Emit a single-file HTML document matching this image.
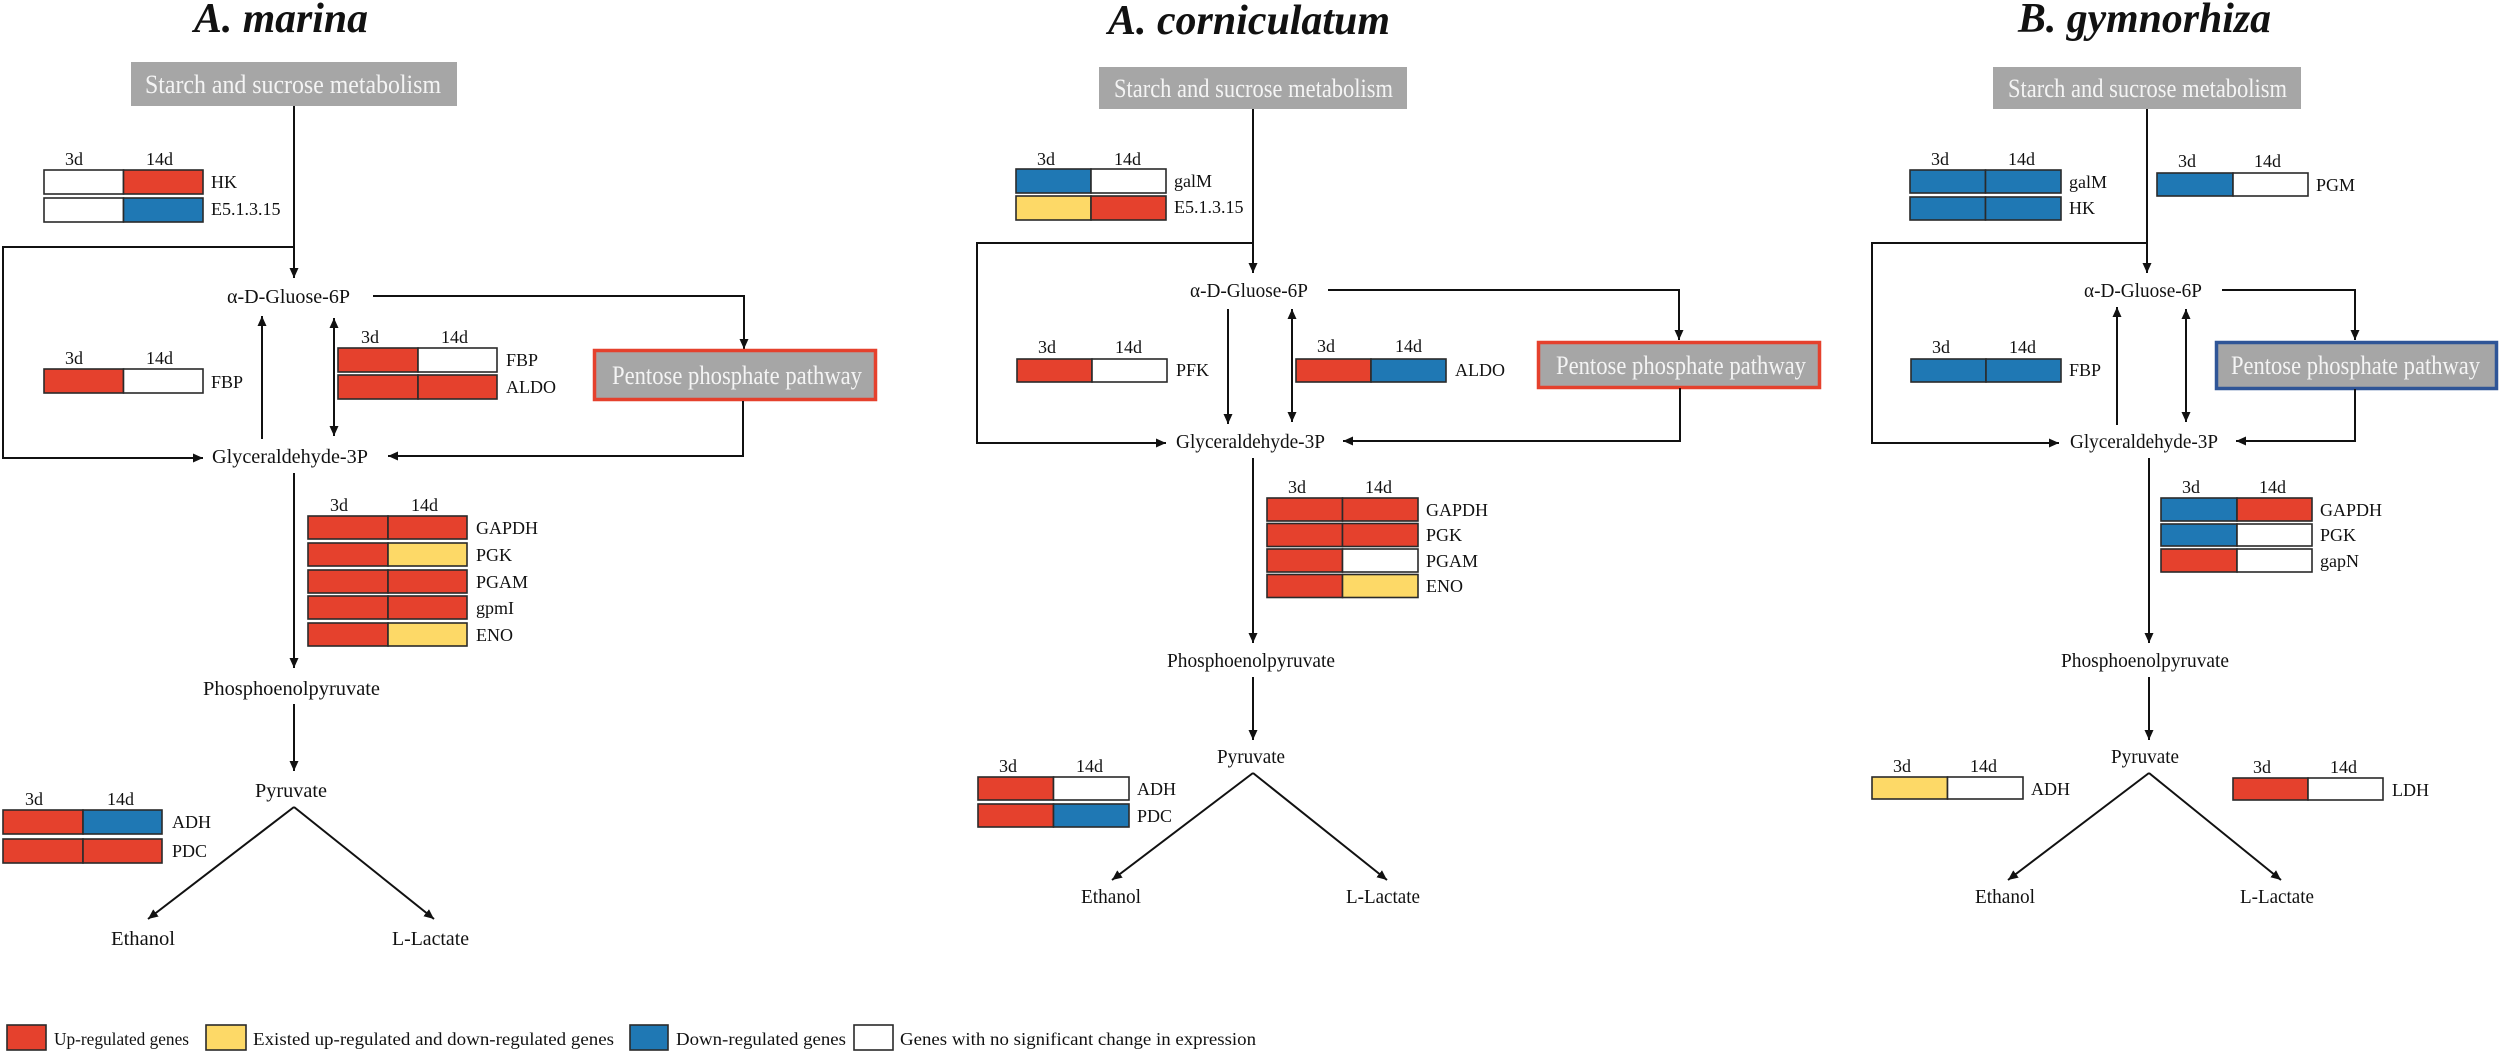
<!DOCTYPE html>
<html><head><meta charset="utf-8"><style>
html,body{margin:0;padding:0;background:#fff;}
svg{display:block;}
text{font-family:"Liberation Serif",serif;fill:#111;}
.t{font-size:42px;font-weight:bold;font-style:italic;}
.bx{font-size:26px;fill:#f4f4f4;}
.m{font-size:20px;}
.s{font-size:18px;}
.ln{stroke:#111;stroke-width:2;fill:none;}
.r{stroke:#2a2a2a;stroke-width:1.6;}
</style></head><body>
<svg width="2500" height="1052" viewBox="0 0 2500 1052" xmlns="http://www.w3.org/2000/svg">
<defs>
<marker id="a" markerUnits="userSpaceOnUse" markerWidth="10" markerHeight="9" refX="10" refY="4.5" orient="auto"><path d="M0,0 L10,4.5 L0,9 z" fill="#111"/></marker>
<marker id="b" markerUnits="userSpaceOnUse" markerWidth="10" markerHeight="9" refX="0" refY="4.5" orient="auto"><path d="M10,0 L0,4.5 L10,9 z" fill="#111"/></marker>
</defs>

<!-- ============ Panel 1 ============ -->
<text class="t" x="194" y="32" textLength="174" lengthAdjust="spacingAndGlyphs">A. marina</text>
<rect x="131" y="62" width="326" height="44" fill="#a6a6a6"/>
<text class="bx" x="145" y="93" textLength="296" lengthAdjust="spacingAndGlyphs">Starch and sucrose metabolism</text>
<path class="ln" d="M294,106 V278" marker-end="url(#a)"/>
<text class="s" x="65" y="165">3d</text><text class="s" x="146" y="165">14d</text>
<rect class="r" x="44" y="170" width="79.5" height="24" fill="#fff"/><rect class="r" x="123.5" y="170" width="79.5" height="24" fill="#e5412d"/>
<rect class="r" x="44" y="198" width="79.5" height="24" fill="#fff"/><rect class="r" x="123.5" y="198" width="79.5" height="24" fill="#1f78b4"/>
<text class="s" x="211" y="188">HK</text><text class="s" x="211" y="215">E5.1.3.15</text>
<path class="ln" d="M294,247 H3 V458 H203" marker-end="url(#a)"/>
<text class="m" x="227" y="303" textLength="123" lengthAdjust="spacingAndGlyphs">α-D-Gluose-6P</text>
<path class="ln" d="M373,296 H744 V349" marker-end="url(#a)"/>
<path class="ln" d="M262,439 V316" marker-end="url(#a)"/>
<path class="ln" d="M334,318 V436" marker-start="url(#b)" marker-end="url(#a)"/>
<text class="s" x="65" y="364">3d</text><text class="s" x="146" y="364">14d</text>
<rect class="r" x="44" y="369" width="79.5" height="24" fill="#e5412d"/><rect class="r" x="123.5" y="369" width="79.5" height="24" fill="#fff"/>
<text class="s" x="211" y="388">FBP</text>
<text class="s" x="361" y="343">3d</text><text class="s" x="441" y="343">14d</text>
<rect class="r" x="338" y="348" width="80" height="24" fill="#e5412d"/><rect class="r" x="418" y="348" width="79" height="24" fill="#fff"/>
<rect class="r" x="338" y="375" width="80" height="24" fill="#e5412d"/><rect class="r" x="418" y="375" width="79" height="24" fill="#e5412d"/>
<text class="s" x="506" y="366">FBP</text><text class="s" x="506" y="393">ALDO</text>
<rect x="594.5" y="350.5" width="281" height="49" fill="#a6a6a6" stroke="#e5412d" stroke-width="3.5"/>
<text class="bx" x="612" y="384" textLength="250" lengthAdjust="spacingAndGlyphs">Pentose phosphate pathway</text>
<path class="ln" d="M743,401 V456 H388" marker-end="url(#a)"/>
<text class="m" x="212" y="463" textLength="156" lengthAdjust="spacingAndGlyphs">Glyceraldehyde-3P</text>
<path class="ln" d="M294,473 V668" marker-end="url(#a)"/>
<text class="s" x="330" y="511">3d</text><text class="s" x="411" y="511">14d</text>
<rect class="r" x="308" y="516" width="80" height="23" fill="#e5412d"/><rect class="r" x="388" y="516" width="79" height="23" fill="#e5412d"/>
<rect class="r" x="308" y="543" width="80" height="23" fill="#e5412d"/><rect class="r" x="388" y="543" width="79" height="23" fill="#fdd967"/>
<rect class="r" x="308" y="570" width="80" height="23" fill="#e5412d"/><rect class="r" x="388" y="570" width="79" height="23" fill="#e5412d"/>
<rect class="r" x="308" y="596" width="80" height="23" fill="#e5412d"/><rect class="r" x="388" y="596" width="79" height="23" fill="#e5412d"/>
<rect class="r" x="308" y="623" width="80" height="23" fill="#e5412d"/><rect class="r" x="388" y="623" width="79" height="23" fill="#fdd967"/>
<text class="s" x="476" y="534">GAPDH</text><text class="s" x="476" y="561">PGK</text><text class="s" x="476" y="588">PGAM</text><text class="s" x="476" y="614">gpmI</text><text class="s" x="476" y="641">ENO</text>
<text class="m" x="203" y="695" textLength="177" lengthAdjust="spacingAndGlyphs">Phosphoenolpyruvate</text>
<path class="ln" d="M294,704 V771" marker-end="url(#a)"/>
<text class="m" x="255" y="797" textLength="72" lengthAdjust="spacingAndGlyphs">Pyruvate</text>
<path class="ln" d="M294,807 L148,919" marker-end="url(#a)"/>
<path class="ln" d="M294,807 L434,919" marker-end="url(#a)"/>
<text class="s" x="25" y="805">3d</text><text class="s" x="107" y="805">14d</text>
<rect class="r" x="3" y="810" width="80" height="24" fill="#e5412d"/><rect class="r" x="83" y="810" width="79" height="24" fill="#1f78b4"/>
<rect class="r" x="3" y="839" width="80" height="24" fill="#e5412d"/><rect class="r" x="83" y="839" width="79" height="24" fill="#e5412d"/>
<text class="s" x="172" y="828">ADH</text><text class="s" x="172" y="857">PDC</text>
<text class="m" x="111" y="945" textLength="64" lengthAdjust="spacingAndGlyphs">Ethanol</text>
<text class="m" x="392" y="945" textLength="77" lengthAdjust="spacingAndGlyphs">L-Lactate</text>

<!-- ============ Panel 2 ============ -->
<text class="t" x="1108" y="34" textLength="282" lengthAdjust="spacingAndGlyphs">A. corniculatum</text>
<rect x="1099" y="67" width="308" height="42" fill="#a6a6a6"/>
<text class="bx" x="1114" y="97" textLength="279" lengthAdjust="spacingAndGlyphs">Starch and sucrose metabolism</text>
<path class="ln" d="M1253,109 V273" marker-end="url(#a)"/>
<text class="s" x="1037" y="165">3d</text><text class="s" x="1114" y="165">14d</text>
<rect class="r" x="1016" y="169" width="75" height="24" fill="#1f78b4"/><rect class="r" x="1091" y="169" width="75" height="24" fill="#fff"/>
<rect class="r" x="1016" y="196" width="75" height="24" fill="#fdd967"/><rect class="r" x="1091" y="196" width="75" height="24" fill="#e5412d"/>
<text class="s" x="1174" y="187">galM</text><text class="s" x="1174" y="213">E5.1.3.15</text>
<path class="ln" d="M1253,243 H977 V443 H1166" marker-end="url(#a)"/>
<text class="m" x="1190" y="297" textLength="118" lengthAdjust="spacingAndGlyphs">α-D-Gluose-6P</text>
<path class="ln" d="M1328,290 H1679 V340" marker-end="url(#a)"/>
<path class="ln" d="M1228,309 V424" marker-end="url(#a)"/>
<path class="ln" d="M1292,309 V422" marker-start="url(#b)" marker-end="url(#a)"/>
<text class="s" x="1038" y="353">3d</text><text class="s" x="1115" y="353">14d</text>
<rect class="r" x="1017" y="359" width="75" height="23" fill="#e5412d"/><rect class="r" x="1092" y="359" width="75" height="23" fill="#fff"/>
<text class="s" x="1176" y="376">PFK</text>
<text class="s" x="1317" y="352">3d</text><text class="s" x="1395" y="352">14d</text>
<rect class="r" x="1296" y="359" width="75" height="23" fill="#e5412d"/><rect class="r" x="1371" y="359" width="75" height="23" fill="#1f78b4"/>
<text class="s" x="1455" y="376">ALDO</text>
<rect x="1538.5" y="342.5" width="281" height="45" fill="#a6a6a6" stroke="#e5412d" stroke-width="3.5"/>
<text class="bx" x="1556" y="374" textLength="250" lengthAdjust="spacingAndGlyphs">Pentose phosphate pathway</text>
<path class="ln" d="M1680,388 V441 H1343" marker-end="url(#a)"/>
<text class="m" x="1176" y="448" textLength="149" lengthAdjust="spacingAndGlyphs">Glyceraldehyde-3P</text>
<path class="ln" d="M1253,458 V643" marker-end="url(#a)"/>
<text class="s" x="1288" y="493">3d</text><text class="s" x="1365" y="493">14d</text>
<rect class="r" x="1267" y="498" width="75.5" height="23" fill="#e5412d"/><rect class="r" x="1342.5" y="498" width="75.5" height="23" fill="#e5412d"/>
<rect class="r" x="1267" y="523.5" width="75.5" height="23" fill="#e5412d"/><rect class="r" x="1342.5" y="523.5" width="75.5" height="23" fill="#e5412d"/>
<rect class="r" x="1267" y="549" width="75.5" height="23" fill="#e5412d"/><rect class="r" x="1342.5" y="549" width="75.5" height="23" fill="#fff"/>
<rect class="r" x="1267" y="574.5" width="75.5" height="23" fill="#e5412d"/><rect class="r" x="1342.5" y="574.5" width="75.5" height="23" fill="#fdd967"/>
<text class="s" x="1426" y="516">GAPDH</text><text class="s" x="1426" y="541">PGK</text><text class="s" x="1426" y="567">PGAM</text><text class="s" x="1426" y="592">ENO</text>
<text class="m" x="1167" y="667" textLength="168" lengthAdjust="spacingAndGlyphs">Phosphoenolpyruvate</text>
<path class="ln" d="M1253,677 V740" marker-end="url(#a)"/>
<text class="m" x="1217" y="763" textLength="68" lengthAdjust="spacingAndGlyphs">Pyruvate</text>
<path class="ln" d="M1253,773 L1112,880" marker-end="url(#a)"/>
<path class="ln" d="M1253,773 L1387,880" marker-end="url(#a)"/>
<text class="s" x="999" y="772">3d</text><text class="s" x="1076" y="772">14d</text>
<rect class="r" x="978" y="777" width="75.5" height="23" fill="#e5412d"/><rect class="r" x="1053.5" y="777" width="75.5" height="23" fill="#fff"/>
<rect class="r" x="978" y="804" width="75.5" height="23" fill="#e5412d"/><rect class="r" x="1053.5" y="804" width="75.5" height="23" fill="#1f78b4"/>
<text class="s" x="1137" y="795">ADH</text><text class="s" x="1137" y="822">PDC</text>
<text class="m" x="1081" y="903" textLength="60" lengthAdjust="spacingAndGlyphs">Ethanol</text>
<text class="m" x="1346" y="903" textLength="74" lengthAdjust="spacingAndGlyphs">L-Lactate</text>

<!-- ============ Panel 3 ============ -->
<text class="t" x="2018" y="32" textLength="253" lengthAdjust="spacingAndGlyphs">B. gymnorhiza</text>
<rect x="1993" y="67" width="308" height="42" fill="#a6a6a6"/>
<text class="bx" x="2008" y="97" textLength="279" lengthAdjust="spacingAndGlyphs">Starch and sucrose metabolism</text>
<path class="ln" d="M2147,109 V273" marker-end="url(#a)"/>
<text class="s" x="1931" y="165">3d</text><text class="s" x="2008" y="165">14d</text>
<rect class="r" x="1910" y="170" width="75.5" height="23" fill="#1f78b4"/><rect class="r" x="1985.5" y="170" width="75.5" height="23" fill="#1f78b4"/>
<rect class="r" x="1910" y="197" width="75.5" height="23" fill="#1f78b4"/><rect class="r" x="1985.5" y="197" width="75.5" height="23" fill="#1f78b4"/>
<text class="s" x="2069" y="188">galM</text><text class="s" x="2069" y="214">HK</text>
<text class="s" x="2178" y="167">3d</text><text class="s" x="2254" y="167">14d</text>
<rect class="r" x="2157" y="173" width="76" height="23" fill="#1f78b4"/><rect class="r" x="2233" y="173" width="75" height="23" fill="#fff"/>
<text class="s" x="2316" y="191">PGM</text>
<path class="ln" d="M2147,243 H1872 V443 H2059" marker-end="url(#a)"/>
<text class="m" x="2084" y="297" textLength="118" lengthAdjust="spacingAndGlyphs">α-D-Gluose-6P</text>
<path class="ln" d="M2222,290 H2355 V340" marker-end="url(#a)"/>
<path class="ln" d="M2117,425 V307" marker-end="url(#a)"/>
<path class="ln" d="M2186,309 V422" marker-start="url(#b)" marker-end="url(#a)"/>
<text class="s" x="1932" y="353">3d</text><text class="s" x="2009" y="353">14d</text>
<rect class="r" x="1911" y="359" width="75" height="23" fill="#1f78b4"/><rect class="r" x="1986" y="359" width="75" height="23" fill="#1f78b4"/>
<text class="s" x="2069" y="376">FBP</text>
<rect x="2216.5" y="342.5" width="280" height="46" fill="#a6a6a6" stroke="#2f5597" stroke-width="3.5"/>
<text class="bx" x="2231" y="374" textLength="249" lengthAdjust="spacingAndGlyphs">Pentose phosphate pathway</text>
<path class="ln" d="M2355,389 V441 H2236" marker-end="url(#a)"/>
<text class="m" x="2070" y="448" textLength="148" lengthAdjust="spacingAndGlyphs">Glyceraldehyde-3P</text>
<path class="ln" d="M2149,458 V643" marker-end="url(#a)"/>
<text class="s" x="2182" y="493">3d</text><text class="s" x="2259" y="493">14d</text>
<rect class="r" x="2161" y="498" width="76" height="23" fill="#1f78b4"/><rect class="r" x="2237" y="498" width="75" height="23" fill="#e5412d"/>
<rect class="r" x="2161" y="524" width="76" height="22" fill="#1f78b4"/><rect class="r" x="2237" y="524" width="75" height="22" fill="#fff"/>
<rect class="r" x="2161" y="549" width="76" height="23" fill="#e5412d"/><rect class="r" x="2237" y="549" width="75" height="23" fill="#fff"/>
<text class="s" x="2320" y="516">GAPDH</text><text class="s" x="2320" y="541">PGK</text><text class="s" x="2320" y="567">gapN</text>
<text class="m" x="2061" y="667" textLength="168" lengthAdjust="spacingAndGlyphs">Phosphoenolpyruvate</text>
<path class="ln" d="M2149,677 V740" marker-end="url(#a)"/>
<text class="m" x="2111" y="763" textLength="68" lengthAdjust="spacingAndGlyphs">Pyruvate</text>
<path class="ln" d="M2149,773 L2008,880" marker-end="url(#a)"/>
<path class="ln" d="M2149,773 L2281,880" marker-end="url(#a)"/>
<text class="s" x="1893" y="772">3d</text><text class="s" x="1970" y="772">14d</text>
<rect class="r" x="1872" y="777" width="75.5" height="22" fill="#fdd967"/><rect class="r" x="1947.5" y="777" width="75.5" height="22" fill="#fff"/>
<text class="s" x="2031" y="795">ADH</text>
<text class="s" x="2253" y="773">3d</text><text class="s" x="2330" y="773">14d</text>
<rect class="r" x="2233" y="778" width="75" height="22" fill="#e5412d"/><rect class="r" x="2308" y="778" width="75" height="22" fill="#fff"/>
<text class="s" x="2392" y="796">LDH</text>
<text class="m" x="1975" y="903" textLength="60" lengthAdjust="spacingAndGlyphs">Ethanol</text>
<text class="m" x="2240" y="903" textLength="74" lengthAdjust="spacingAndGlyphs">L-Lactate</text>

<!-- ============ Legend ============ -->
<rect class="r" x="7" y="1025" width="39" height="25" fill="#e5412d"/>
<text class="s" x="54" y="1045" textLength="135" lengthAdjust="spacingAndGlyphs">Up-regulated genes</text>
<rect class="r" x="206" y="1025" width="40" height="25" fill="#fdd967"/>
<text class="s" x="253" y="1045" textLength="361" lengthAdjust="spacingAndGlyphs">Existed up-regulated and down-regulated genes</text>
<rect class="r" x="630" y="1025" width="38" height="25" fill="#1f78b4"/>
<text class="s" x="676" y="1045" textLength="170" lengthAdjust="spacingAndGlyphs">Down-regulated genes</text>
<rect class="r" x="854" y="1025" width="39" height="25" fill="#fff"/>
<text class="s" x="900" y="1045" textLength="356" lengthAdjust="spacingAndGlyphs">Genes with no significant change in expression</text>
</svg>
</body></html>
